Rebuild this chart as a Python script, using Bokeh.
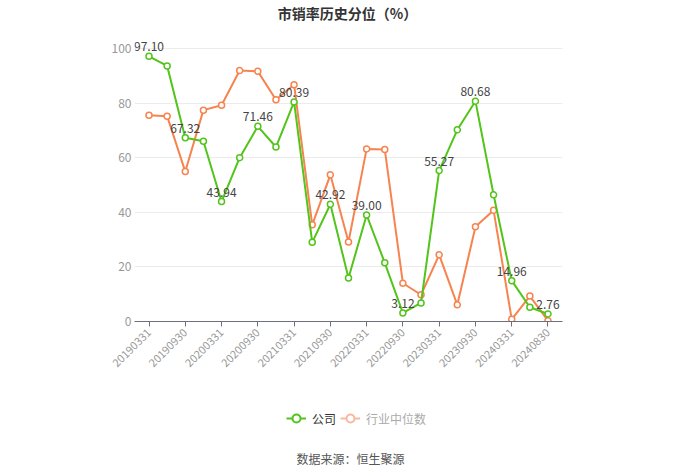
from bokeh.plotting import figure
from bokeh.models import (ColumnDataSource, FixedTicker, Label, Legend, LegendItem, Range1d)
from bokeh.layouts import column
from bokeh.core.properties import value
from bokeh.embed import file_html
from bokeh.resources import INLINE

dates = ["20190331", "20190630", "20190930", "20191231", "20200331", "20200630",
         "20200930", "20201231", "20210331", "20210630", "20210930", "20211231",
         "20220331", "20220630", "20220930", "20221231", "20230331", "20230630",
         "20230930", "20231231", "20240331", "20240630", "20240830"]
company = [97.10, 93.6, 67.32, 66.0, 43.94, 60.0, 71.46, 63.9, 80.39, 29.0, 42.92, 15.9,
           39.00, 21.5, 3.12, 6.8, 55.27, 70.2, 80.68, 46.4, 14.96, 5.2, 2.76]
industry = [75.5, 75.2, 54.9, 77.4, 79.2, 91.9, 91.6, 81.2, 86.7, 35.4, 53.7, 29.1,
            63.2, 63.0, 14.0, 9.8, 24.4, 6.1, 34.7, 40.7, 0.8, 9.3, 0.3]
y_ticks = [0, 20, 40, 60, 80, 100]
title_text = "市销率历史分位（%）"
source_text = "数据来源：恒生聚源"
legend_labels = ["公司", "行业中位数"]

FONT = "Noto Sans CJK SC"
GREEN = "#52c41a"
ORANGE = "#f7834e"
W = 700
L = 134   # frame left (screen px)
R = 562   # frame right (screen px)


def blank(h):
    # frames of plots in a column are aligned; map data x to screen x directly
    f = figure(width=W, height=h, output_backend="svg", toolbar_location=None,
               x_range=Range1d(L, R), y_range=Range1d(0, h),
               x_axis_location=None, y_axis_location=None,
               min_border_left=L, min_border_right=W - R, min_border_top=0, min_border_bottom=0)
    f.outline_line_color = None
    f.xgrid.grid_line_color = None
    f.ygrid.grid_line_color = None
    return f


# ---- header with title
header = blank(30)
header.add_layout(Label(x=347, y=18, text=title_text, text_font=FONT, text_font_size="14px",
                        text_font_style="bold", text_color="#333333",
                        text_align="center", text_baseline="middle"))

# ---- main chart
xs = list(range(len(dates)))
src = ColumnDataSource(dict(
    x=xs, c=company, i=industry,
    lab=[f"{v:.2f}" if k % 2 == 0 else "" for k, v in enumerate(company)],
))

p = figure(width=W, height=365, output_backend="svg", toolbar_location=None,
           x_range=Range1d(-0.8, len(dates) - 0.2), y_range=Range1d(0, 104),
           min_border_left=L, min_border_right=W - R, min_border_top=7,
           min_border_bottom=74)
p.outline_line_color = None

p.line("x", "i", source=src, line_color=ORANGE, line_width=2)
p.scatter("x", "i", source=src, size=6, fill_color="white", line_color=ORANGE, line_width=1.5)
p.line("x", "c", source=src, line_color=GREEN, line_width=2)
p.scatter("x", "c", source=src, size=6, fill_color="white", line_color=GREEN, line_width=1.5)
p.text("x", "c", text="lab", source=src, text_font_size="12px", text_color="#444444",
       text_align="center", text_baseline="bottom", y_offset=-5, text_font=value(FONT))

p.yaxis.ticker = FixedTicker(ticks=y_ticks)
p.yaxis.axis_line_color = None
p.yaxis.major_tick_line_color = None
p.yaxis.major_tick_in = 0
p.yaxis.major_tick_out = 0
p.yaxis.minor_tick_line_color = None
p.yaxis.major_label_text_color = "#999999"
p.yaxis.major_label_text_font_size = "12px"
p.yaxis.major_label_text_font = FONT
p.yaxis.major_label_standoff = 3
p.ygrid.grid_line_color = "#ececec"
p.xgrid.grid_line_color = None

p.xaxis.ticker = FixedTicker(ticks=xs[::2])
p.xaxis.major_label_overrides = {k: dates[k] for k in xs}
p.xaxis.major_label_orientation = 0.785398
p.xaxis.axis_line_color = "#6e7079"
p.xaxis.major_tick_line_color = "#6e7079"
p.xaxis.major_tick_in = 0
p.xaxis.major_tick_out = 5
p.xaxis.minor_tick_line_color = None
p.xaxis.major_label_text_color = "#999999"
p.xaxis.major_label_text_font_size = "11px"
p.xaxis.major_label_text_font = FONT
p.xaxis.major_label_standoff = 4

# ---- footer with legend and source
footer = blank(79)
nan = float("nan")
g1 = footer.line([nan], [nan], line_color=GREEN, line_width=2)
g2 = footer.scatter([nan], [nan], size=8, fill_color="white", line_color=GREEN, line_width=2)
o1 = footer.line([nan], [nan], line_color="#f7b9a0", line_width=2)
o2 = footer.scatter([nan], [nan], size=8, fill_color="white", line_color="#f7b9a0", line_width=2)
for (rs, lab, col, xloc) in [([g1, g2], legend_labels[0], "#333333", 286),
                             ([o1, o2], legend_labels[1], "#aaaaaa", 340)]:
    lg = Legend(items=[LegendItem(label=lab, renderers=rs)], location=(xloc - L, 46),
                orientation="horizontal", padding=0, margin=0, spacing=0,
                glyph_width=20, glyph_height=20, label_standoff=6,
                label_text_font=FONT, label_text_font_size="12px", label_text_color=col,
                border_line_alpha=0, background_fill_alpha=0)
    footer.add_layout(lg, "center")
footer.add_layout(Label(x=350, y=16, text=source_text, text_font=FONT, text_font_size="12px",
                        text_color="#555555", text_align="center", text_baseline="middle"))

layout = column(header, p, footer, spacing=0)
open("out.html", "w").write(file_html(layout, INLINE))
